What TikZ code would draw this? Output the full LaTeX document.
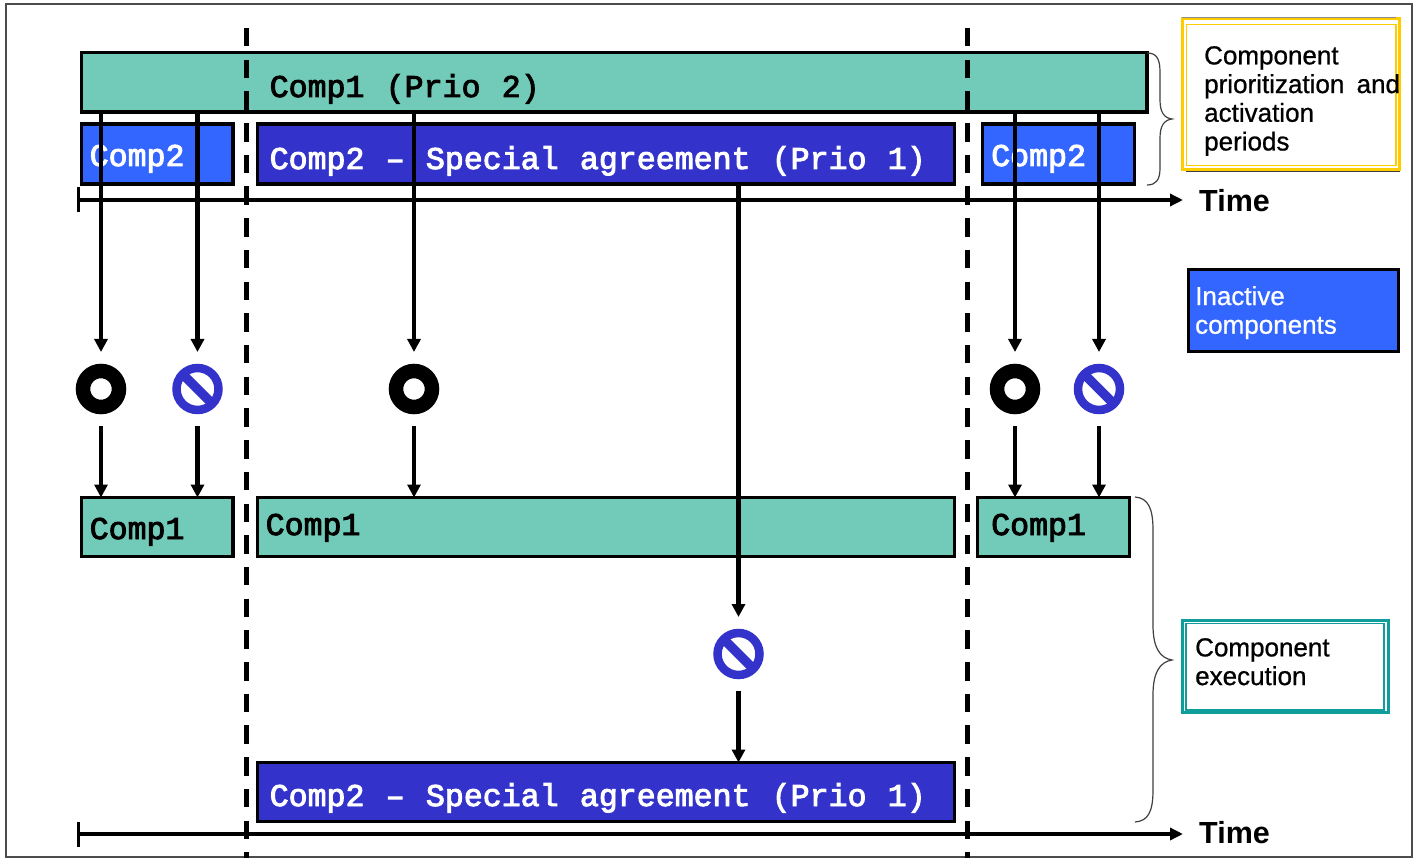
\documentclass[tikz,border=0pt]{standalone}
\usepackage{fontspec}
\setmainfont[FakeBold=0.8,WordSpace=1.7]{Liberation Sans}
\newfontfamily\boldsans{Liberation Sans Bold}
\newfontfamily\monof[FakeBold=3,WordSpace=1.12]{Liberation Mono}
\usetikzlibrary{arrows.meta}
\definecolor{compgreen}{HTML}{72CBB8}
\definecolor{inactblue}{HTML}{3366FF}
\definecolor{specblue}{HTML}{3333CC}
\definecolor{noteyellow}{HTML}{FFCC00}
\definecolor{noteteal}{HTML}{0F9E9B}
\tikzset{
  x=1pt,y=-1pt,
  compbox/.style={draw=black,line width=3.5pt,anchor=north west,inner sep=0pt,outer sep=0pt},
  notebox/.style={line width=3pt,anchor=north west,inner sep=0pt,outer sep=0pt},
  monotext/.style={anchor=base west,inner sep=0pt,font=\fontsize{31.6}{31.6}\selectfont\monof},
  sanstext/.style={anchor=north west,inner sep=0pt,align=left,font=\fontsize{26}{28.7}\selectfont},
  timetext/.style={anchor=base west,inner sep=0pt,font=\fontsize{30.5}{30.5}\selectfont\boldsans},
  arrowline/.style={line width=4.3pt,-{Triangle[length=13pt,width=13pt]}},
  axisline/.style={line width=4.5pt,{Bar[width=25pt,line width=3.5pt]}-{Triangle[length=13pt,width=12pt]}},
  dashline/.style={line width=5pt,dash pattern=on 18.5pt off 13.2pt},
  oicon/.style={circle,draw=black,fill=white,line width=14.5pt,minimum size=36pt,inner sep=0pt,outer sep=19pt},
  noicon/.style={circle,draw=specblue,fill=white,line width=8.5pt,minimum size=42pt,inner sep=0pt,outer sep=16pt},
  bracebow/.style={line width=1.2pt,draw=black!75},
}
\begin{document}
\begin{tikzpicture}
\useasboundingbox (0,0) rectangle (1419,858);
\fill[white] (0,0) rectangle (1419,858);
\draw[line width=2pt,draw=black!70] (5.5,4.5) rectangle (1412,856.5);

% priority boxes
\node[compbox,fill=compgreen,minimum width=1065.5pt,minimum height=59.5pt] (prio) at (81.5,52.5) {};
\node[compbox,fill=inactblue,minimum width=151.5pt,minimum height=60pt] (inl) at (81.5,124) {};
\node[compbox,fill=specblue,minimum width=697pt,minimum height=60pt] (spec) at (257.5,124) {};
\node[compbox,fill=inactblue,minimum width=152pt,minimum height=60pt] (inr) at (982.5,124) {};
\node[monotext] (tprio) at (269.5,97) {Comp1 (Prio 2)};
\node[monotext,text=white] (tinl) at (89.5,166) {Comp2};
\node[monotext,text=white] (tspec) at (269.5,169) {Comp2 – Special agreement (Prio 1)};
\node[monotext,text=white] (tinr) at (991,166) {Comp2};

% execution boxes
\node[compbox,fill=compgreen,minimum width=151.5pt,minimum height=59pt] (exl) at (81.5,497.5) {};
\node[compbox,fill=compgreen,minimum width=697pt,minimum height=59pt] (exm) at (257.5,497.5) {};
\node[compbox,fill=compgreen,minimum width=152pt,minimum height=59pt] (exr) at (977.5,497.5) {};
\node[compbox,fill=specblue,minimum width=697pt,minimum height=59pt] (exb) at (257.5,762.5) {};
\node[monotext] (texl) at (89.5,539) {Comp1};
\node[monotext] (texm) at (265.5,535) {Comp1};
\node[monotext] (texr) at (991,535) {Comp1};
\node[monotext,text=white] (texb) at (269.5,806) {Comp2 – Special agreement (Prio 1)};

% period boundaries
\coordinate (d1a) at (246,28);
\coordinate (d1b) at (246,858);
\coordinate (d2a) at (967,28);
\coordinate (d2b) at (967,858);
\draw[dashline] (d1a) -- (d1b);
\draw[dashline] (d2a) -- (d2b);

% time axes
\coordinate (a1s) at (76.5,200);
\coordinate (a1e) at (1183,200);
\coordinate (a2s) at (76.5,834);
\coordinate (a2e) at (1183,834);
\draw[axisline] (a1s) -- (a1e);
\draw[axisline] (a2s) -- (a2e);
\node[timetext] (time1) at (1199,212) {Time};
\node[timetext] (time2) at (1199,843) {Time};

% status icons
\node[oicon] (i1) at (101,389) {};
\node[noicon] (i2) at (197.5,389) {};
\node[oicon] (i3) at (414,389) {};
\node[oicon] (i4) at (1015,389) {};
\node[noicon] (i5) at (1099,389) {};
\node[noicon] (i6) at (738.5,654) {};
\foreach \n in {i2,i5,i6}
  \draw[line width=9.5pt,draw=specblue] (\n.center) ++(-16,-16) -- ++(32,32);

% connectors
\foreach \n/\b/\e in {i1/exl/prio,i2/exl/prio,i3/exm/prio,i4/exr/prio,i5/exr/prio}{
  \draw[arrowline] (\e.south -| \n.north) -- (\n.north);
  \draw[arrowline] (\n.south) -- (\n.south |- \b.north);
}
\draw[arrowline] (spec.south -| i6.north) -- (i6.north);
\draw[arrowline] (i6.south) -- (i6.south |- exb.north);

% braces
\draw[bracebow] (1147,53) .. controls (1156,53) and (1160,58) .. (1160,72)
  -- (1160,100) .. controls (1160,112) and (1164,118) .. (1172,119)
  .. controls (1164,120) and (1160,126) .. (1160,138)
  -- (1160,168) .. controls (1160,180) and (1156,185) .. (1147,185);
\draw[bracebow] (1135,497) .. controls (1148,498) and (1153,508) .. (1153,530)
  -- (1153,625) .. controls (1153,648) and (1160,658) .. (1172,660)
  .. controls (1160,662) and (1153,672) .. (1153,695)
  -- (1153,790) .. controls (1153,812) and (1148,821) .. (1135,822);

% legend
\node[notebox,draw=noteyellow,minimum width=217pt,minimum height=151pt] (yellow) at (1182,19) {};
\draw[line width=1pt,draw=black!45] (1182,17.5) -- (1396,17.5);
\draw[line width=1pt,draw=black!75] (1186,171.5) -- (1400,171.5);
\node[notebox,draw=noteyellow,line width=1.5pt,minimum width=209.5pt,minimum height=141pt] (yellowin) at (1186.5,24.5) {};
\node[sanstext] (tyellow) at (1204,46) {Component\\prioritization and\\activation\\periods};

\node[notebox,draw=black,fill=inactblue,minimum width=210.5pt,minimum height=81.5pt] (inact) at (1188,270) {};
\node[sanstext,text=white] (tinact) at (1195,286) {Inactive\\components};

\node[notebox,draw=noteteal,minimum width=205.5pt,minimum height=92pt] (teal) at (1182.5,620.5) {};
\node[notebox,draw=noteteal,line width=1.2pt,minimum width=198pt,minimum height=86.5pt] (tealin) at (1186,623.5) {};
\node[sanstext] (tteal) at (1195,638) {Component\\execution};
\end{tikzpicture}
\end{document}
